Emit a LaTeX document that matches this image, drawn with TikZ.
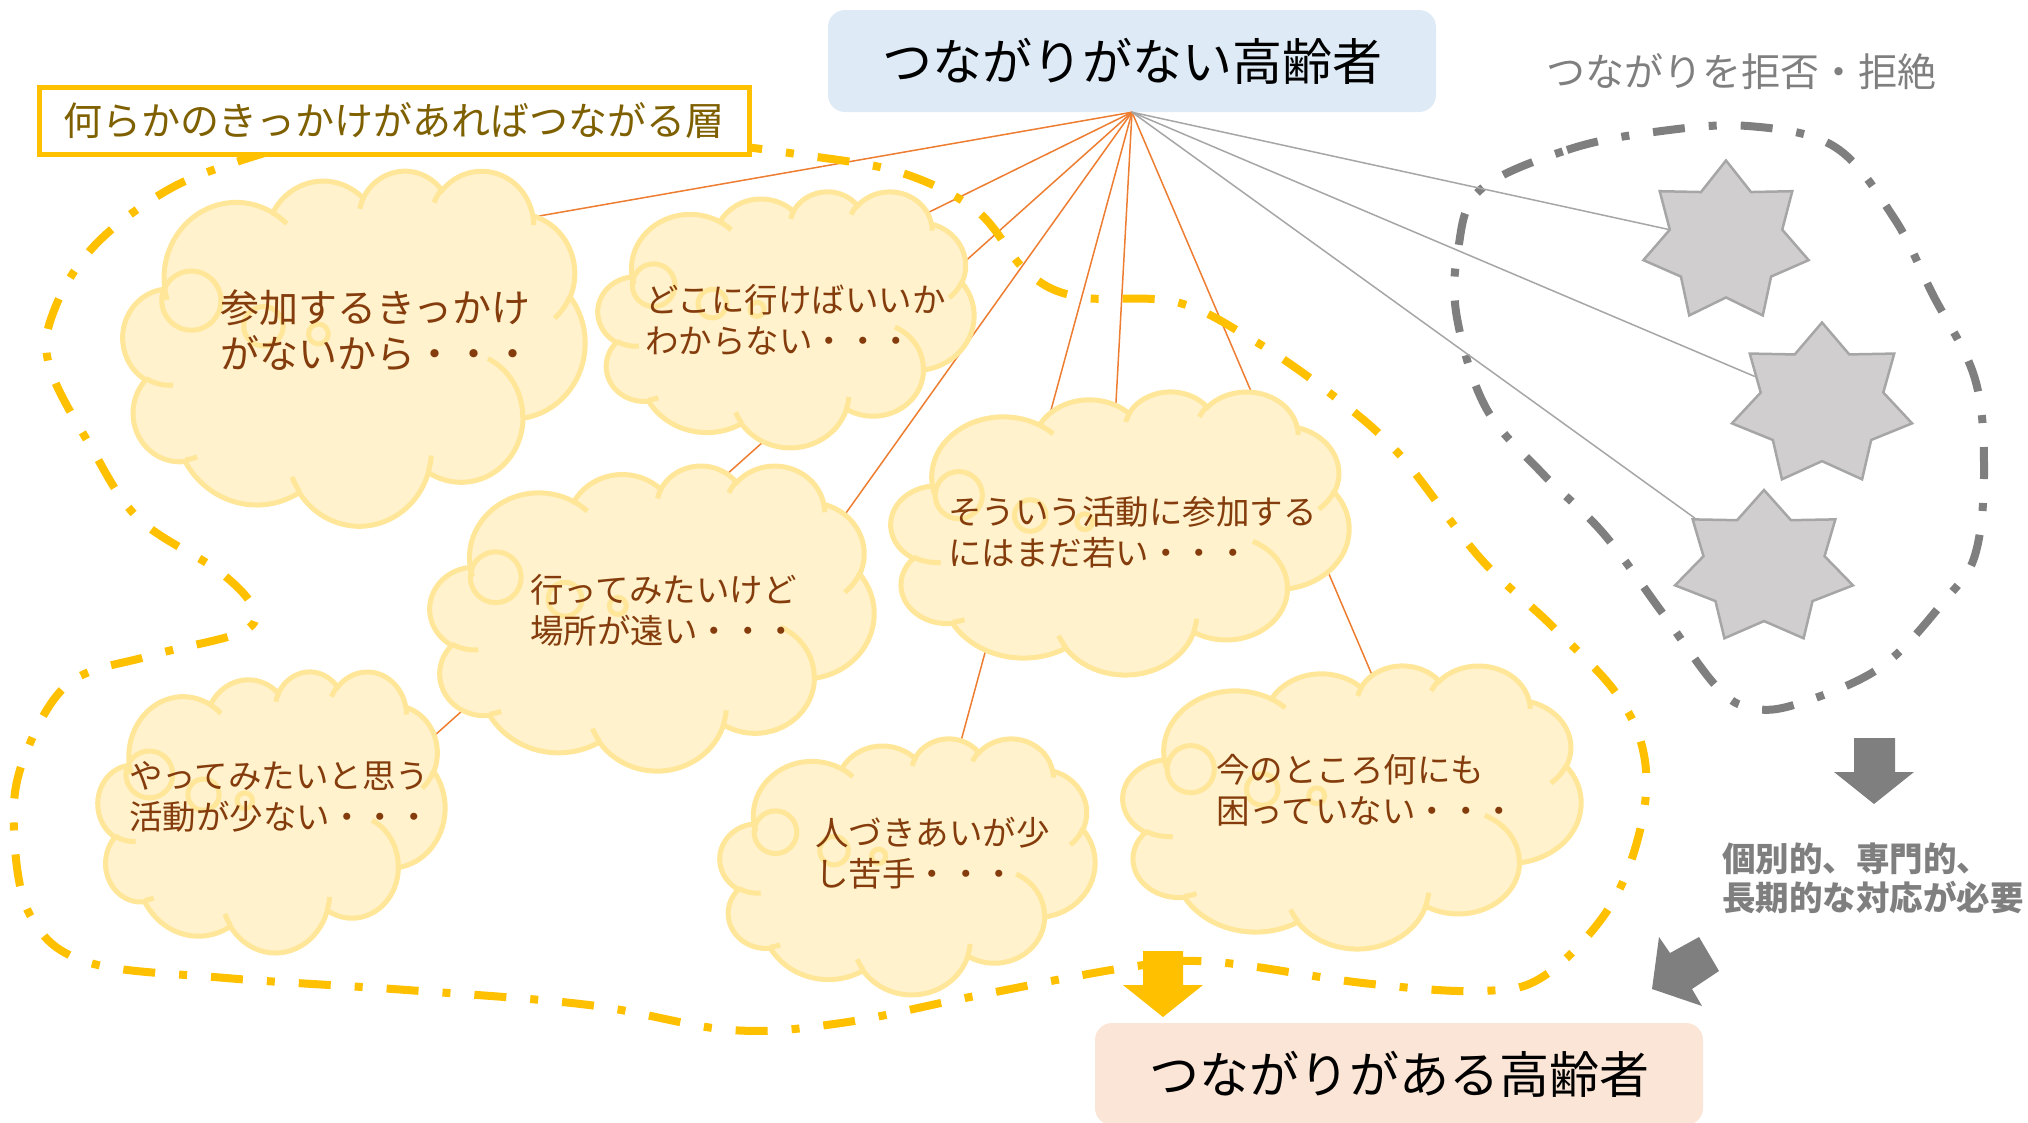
\documentclass[tikz,border=0pt]{standalone}
\usepackage{fontspec}
\setmainfont{Noto Sans CJK JP}
\usetikzlibrary{shapes.geometric}% star shape for the refusing group
\definecolor{boxblue}{HTML}{DEEBF7}
\definecolor{boxpeach}{HTML}{FBE5D6}
\definecolor{gold}{HTML}{FFC000}
\definecolor{olivetext}{HTML}{7F6000}
\definecolor{puffin}{HTML}{FFF2CC}
\definecolor{puffout}{HTML}{FFE699}
\definecolor{pufftext}{HTML}{843C0C}
\definecolor{linkorange}{HTML}{ED7D31}
\definecolor{greytext}{HTML}{7F7F7F}
\definecolor{starfill}{HTML}{D0CECE}
\definecolor{starline}{HTML}{A6A6A6}
\tikzset{every node/.style={inner sep=0pt},
  puff/.style={draw=puffout, line width=5pt},
  puffword/.style={anchor=west, align=left, text=pufftext, font=\fontsize{33.5}{41}\selectfont},
  elder/.style={rounded corners=17pt, minimum width=608pt, minimum height=102pt, font=\fontsize{50}{60}\selectfont},
  refusal/.style={star, star points=7, star point ratio=1.47, draw=starline, fill=starfill, line width=2.5pt},
  linkline/.style={draw=linkorange, line width=1.5pt},
  linkgrey/.style={draw=starline, line width=1.5pt},
  dashdot/.style={line width=8pt, dash pattern=on 32pt off 24pt on 8pt off 24pt}}
% elliptic arc given by its visual start angle and sweep
\newcommand{\parc}[4]{arc[x radius=#1, y radius=#2,
  start angle={atan2(#1*sin(#3),#2*cos(#3))},
  delta angle={mod(atan2(#1*sin(#3+#4),#2*cos(#3+#4))-atan2(#1*sin(#3),#2*cos(#3))+720,360)}]}
% thought cloud in the box x, y, width, height
\newcommand{\thought}[4]{%
  \begin{scope}[shift={(#1,#2)}, xscale=#3/432, yscale=#4/432]
    \draw[puff, fill=puffin] (39.00,143.70) \parc{67.53}{91.90}{-190.48748}{123.78053}
      \parc{53.33}{72.67}{-144.10238}{89.94523} \parc{43.65}{59.45}{-145.80792}{99.72302}
      \parc{48.57}{65.95}{-130.98607}{117.24173} \parc{53.33}{72.73}{-78.70888}{109.02692}
      \parc{67.75}{92.20}{-46.26725}{130.269} \parc{57.85}{78.67}{0.62502}{114.03333}
      \parc{67.52}{92.15}{22.4516}{115.17255} \parc{77.20}{105.43}{66.24263}{75.71102}
      \parc{43.60}{59.18}{-274.94208}{146.73557} \parc{43.45}{59.45}{-246.8285}{152.51885} -- cycle;
  \end{scope}
  \foreach \fx/\fy/\fd in {0.148/0.368/12, 0.304/0.44/18, 0.423/0.462/36}
    \draw[puff, fill=puffin] ({#1+\fx*#3},{#2+\fy*#4}) circle[radius={#4/\fd}];
  \begin{scope}[shift={(#1,#2)}, xscale=#3/432, yscale=#4/432]
    \draw[puff] (46.93,261.77) \parc{43.45}{59.45}{86.742}{26.4295}
      (69.28,348.99) \parc{43.60}{59.18}{73.61047}{11.44747}
      (164.78,390.90) \parc{67.52}{92.15}{137.62415}{14.0811}
      (288.27,347.51) \parc{67.52}{92.15}{6.45327}{15.99835}
      (341.29,229.54) \parc{57.85}{78.67}{-70.29235}{70.91737}
      (417.98,153.54) \parc{53.33}{72.73}{30.31803}{27.7515}
      (383.24,54.26) \parc{48.57}{65.95}{-13.74433}{14.8589}
      (290.78,39.52) \parc{48.57}{65.95}{-149.18145}{18.19537}
      (221.41,47.20) \parc{43.65}{59.45}{-163.49427}{17.68635}
      (140.00,51.92) \parc{67.53}{91.90}{-66.70695}{12.31935}
      (41.27,157.89) \parc{67.53}{91.90}{157.65435}{11.85817};
  \end{scope}}

\begin{document}
\begin{tikzpicture}[x=1pt, y=-1pt]
  \useasboundingbox (0,0) rectangle (2028,1122);
  \node[elder, fill=boxblue] (nolink) at (1132,61) {つながりがない高齢者};
  \node[elder, fill=boxpeach] (linked) at (1399,1074) {つながりがある高齢者};

  % the group that refuses
  \node[refusal, minimum size=163pt, xscale=1.04] (kyohi1) at (1726,242) {};
  \node[refusal, minimum size=165pt, xscale=1.12] (kyohi2) at (1822,405) {};
  \node[refusal, minimum size=156pt, xscale=1.17] (kyohi3) at (1764,568) {};
  \node[anchor=west, text=greytext, font=\fontsize{39}{46}\selectfont] (kyohi) at (1546,72) {つながりを拒否・拒絶};
  \draw[dashdot, greytext] plot[smooth cycle, tension=0.6] coordinates {(1480,190) (1567,150) (1654,132)
    (1748,126) (1835,147) (1894,218) (1932,293) (1975,379) (1984,472) (1975,555) (1945,600) (1881,667)
    (1797,704) (1751,708) (1716,686) (1661,611) (1603,533) (1541,472) (1486,408) (1457,318) (1458,250)};

  \coordinate (kikkake-e) at (522,219);
  \coordinate (dokoni-e) at (913,220);
  \coordinate (yattemi-e) at (425,744);
  \coordinate (ittemi-e) at (836,527);
  \coordinate (wakai-e) at (1115,420);
  \coordinate (hitozuki-e) at (952,774);
  \coordinate (imano-e) at (1378,689);
  \foreach \c in {kikkake,dokoni,yattemi,ittemi,wakai,hitozuki,imano}
    \draw[linkline] (nolink.south) -- (\c-e);
  \foreach \s in {1,2,3}
    \draw[linkgrey] (nolink.south) -- (kyohi\s);

  % the group that could connect
  \draw[dashdot, gold] plot[smooth, tension=0.6] coordinates {(268,152) (175,186) (97,243) (55,308)
    (49,365) (91,447) (139,519) (220,572) (254,610) (239,633) (149,656) (68,684) (23,761) (14,830)
    (30,915) (87,962) (226,978) (407,990) (589,1005) (731,1030) (841,1023) (970,997) (1130,967)
    (1215,962) (1363,983) (1480,991) (1544,976) (1609,908) (1641,826) (1644,755) (1616,693)
    (1551,625) (1480,558) (1399,454) (1331,394) (1253,340) (1176,302) (1079,297) (1027,272)
    (977,211) (899,172) (796,154) (745,147)};
  \node[draw=gold, line width=5pt, fill=white, minimum width=710pt, minimum height=67pt,
    text=olivetext, font=\fontsize{39}{46}\selectfont] (layer) at (394,121) {何らかのきっかけがあればつながる層};

  \thought{123}{170}{462}{355}
  \thought{598}{191}{376}{256}
  \thought{430}{465}{444}{305}
  \thought{98}{671}{347}{281}
  \thought{891}{391}{458}{283}
  \thought{720}{738}{375}{256}
  \thought{1123}{665}{458}{283}
  \node[puffword, font=\fontsize{39}{46}\selectfont] (kikkake) at (220,330) {参加するきっかけ\\がないから・・・};
  \node[puffword] (dokoni) at (645,320) {どこに行けばいいか\\わからない・・・};
  \node[puffword] (ittemi) at (530,610) {行ってみたいけど\\場所が遠い・・・};
  \node[puffword] (yattemi) at (129,797) {やってみたいと思う\\活動が少ない・・・};
  \node[puffword] (wakai) at (948,532) {そういう活動に参加する\\にはまだ若い・・・};
  \node[puffword] (hitozuki) at (815,853) {人づきあいが少\\し苦手・・・};
  \node[puffword] (imano) at (1216,790) {今のところ何にも\\困っていない・・・};

  % block arrows
  \fill[gold] (1143,951) -- (1183,951) -- (1183,985) -- (1203,985) -- (1163,1017) -- (1123,985) -- (1143,985) -- cycle;
  \fill[greytext] (1854,738) -- (1895,738) -- (1895,772) -- (1914,772) -- (1874,804) -- (1834,772) -- (1854,772) -- cycle;
  \fill[greytext] (1659,937) -- (1670,953) -- (1699,937) -- (1719,971) -- (1692,989) -- (1702,1006) -- (1652,989) -- cycle;
  \node[anchor=west, align=left, text=greytext, font=\fontsize{33.5}{39}\selectfont\bfseries] (care) at (1722,878)
    {個別的、専門的、\\長期的な対応が必要};
\end{tikzpicture}
\end{document}
